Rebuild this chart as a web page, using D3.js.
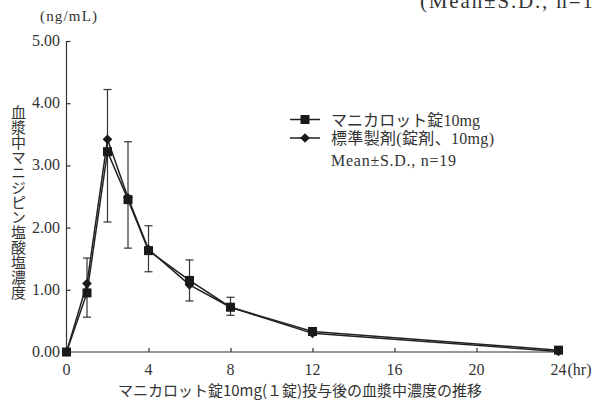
<!DOCTYPE html>
<html>
<head>
<meta charset="utf-8">
<script src="https://cdn.jsdelivr.net/npm/d3@7"></script>
<style>
  body { margin: 0; background: #fff; }
  svg { display: block; }
  .serif { font-family: "Liberation Serif", "DejaVu Serif", "Noto Sans CJK JP", serif; fill: #333; }
  .axis path, .axis line { stroke: #333; stroke-width: 1.2; }
</style>
</head>
<body>
<div id="chart"></div>
<script>
// sampling times (hr)
const times = [0, 1, 2, 3, 4, 6, 8, 12, 24];
// mean plasma concentration (ng/mL)
const manicarot = [0, 0.95, 3.22, 2.45, 1.63, 1.15, 0.72, 0.33, 0.03];
const standard = [0, 1.10, 3.42, 2.48, 1.65, 1.08, 0.72, 0.30, 0.01];
// error bar ends
const errTop = [null, 1.51, 4.22, 3.38, 2.03, 1.48, 0.88, 0.39, 0.08];
const errBottom = [null, 0.56, 2.09, 1.67, 1.29, 0.82, 0.59, 0.27, null];
const xTicks = [0, 4, 8, 12, 16, 20, 24];
const yTicks = [0, 1, 2, 3, 4, 5];
const seriesNames = ["マニカロット錠10mg", "標準製剤(錠剤、10mg)"];

const width = 592, height = 401;
const svg = d3.select("#chart").append("svg")
    .attr("width", width)
    .attr("height", height);

// plot area
const x = d3.scaleLinear().domain([0, 24]).range([66.5, 558.5]);
const y = d3.scaleLinear().domain([0, 5]).range([352, 41]);

// x-axis
svg.append("g")
    .attr("class", "axis")
    .attr("transform", "translate(0," + y(0) + ")")
    .call(d3.axisBottom(x).tickValues(xTicks).tickSizeInner(-4).tickSizeOuter(0).tickFormat(() => ""))
    .call(g => g.select(".domain").attr("d", "M" + x(0) + ",0H" + x(24)));

svg.selectAll(".xlab")
    .data(xTicks)
    .enter()
    .append("text")
    .attr("class", "serif")
    .attr("x", d => x(d))
    .attr("y", 375)
    .attr("text-anchor", "middle")
    .style("font-size", "16px")
    .text(d => d);

svg.append("text")
    .attr("class", "serif")
    .attr("x", x(24) + 9)
    .attr("y", 375)
    .style("font-size", "16px")
    .text("(hr)");

// y-axis
svg.append("g")
    .attr("class", "axis")
    .attr("transform", "translate(" + x(0) + ",0)")
    .call(d3.axisRight(y).tickValues(yTicks).tickSizeInner(4).tickSizeOuter(0).tickFormat(() => ""))
    .call(g => g.select(".domain").attr("d", "M0," + y(0) + "V" + y(5)));

svg.selectAll(".ylab")
    .data(yTicks)
    .enter()
    .append("text")
    .attr("class", "serif")
    .attr("x", 60)
    .attr("y", d => y(d) + 5)
    .attr("text-anchor", "end")
    .style("font-size", "16px")
    .text(d => d.toFixed(2));

svg.append("text")
    .attr("class", "serif")
    .attr("x", 40)
    .attr("y", 21)
    .attr("textLength", 57)
    .attr("lengthAdjust", "spacing")
    .style("font-size", "15px")
    .text("(ng/mL)");

// vertical y-axis title
svg.append("text")
    .attr("class", "serif")
    .attr("x", 17)
    .attr("y", 105)
    .style("writing-mode", "vertical-rl")
    .style("font-size", "15px")
    .text("血漿中マニジピン塩酸塩濃度");

// note at the top right, clipped by the page edge as in the source
svg.append("text")
    .attr("class", "serif")
    .attr("x", 420)
    .attr("y", 8)
    .attr("textLength", 194)
    .attr("lengthAdjust", "spacing")
    .style("font-size", "21px")
    .text("(Mean±S.D., n=19)");

// error bars
const errData = times.map((t, i) => ({ t: t, top: errTop[i], bottom: errBottom[i], mid: (manicarot[i] + standard[i]) / 2 }))
    .filter(d => d.top !== null || d.bottom !== null);

const errG = svg.append("g").attr("stroke", "#333").attr("stroke-width", 1.2);
errData.forEach(d => {
    let top = d.top !== null ? d.top : d.mid;
    let bottom = d.bottom !== null ? d.bottom : d.mid;
    errG.append("line")
        .attr("x1", x(d.t)).attr("x2", x(d.t))
        .attr("y1", y(top)).attr("y2", y(bottom));
    if (d.top !== null) {
        errG.append("line")
            .attr("x1", x(d.t) - 4).attr("x2", x(d.t) + 4)
            .attr("y1", y(d.top)).attr("y2", y(d.top));
    }
    if (d.bottom !== null) {
        errG.append("line")
            .attr("x1", x(d.t) - 4).attr("x2", x(d.t) + 4)
            .attr("y1", y(d.bottom)).attr("y2", y(d.bottom));
    }
});

// lines
const line = d3.line()
    .x(d => x(d[0]))
    .y(d => y(d[1]));

[standard, manicarot].forEach(values => {
    svg.append("path")
        .datum(times.map((t, i) => [t, values[i]]))
        .attr("d", line)
        .attr("fill", "none")
        .attr("stroke", "#222")
        .attr("stroke-width", 1.5);
});

// markers
const diamond = d3.symbol().type(d3.symbolDiamond2).size(60);

svg.selectAll(".diamond")
    .data(times.map((t, i) => [t, standard[i]]))
    .enter()
    .append("path")
    .attr("class", "diamond")
    .attr("d", diamond)
    .attr("transform", d => "translate(" + x(d[0]) + "," + y(d[1]) + ")")
    .attr("fill", "#1a1a1a");

svg.selectAll(".square")
    .data(times.map((t, i) => [t, manicarot[i]]))
    .enter()
    .append("rect")
    .attr("class", "square")
    .attr("x", d => x(d[0]) - 4.5)
    .attr("y", d => y(d[1]) - 4.5)
    .attr("width", 9)
    .attr("height", 9)
    .attr("fill", "#1a1a1a");

// legend
const legend = svg.append("g").attr("transform", "translate(290,0)");
const legendY = [119.5, 138];
const legendWidths = [149, 163];

legendY.forEach((ly, i) => {
    legend.append("line")
        .attr("x1", 0).attr("x2", 30)
        .attr("y1", ly).attr("y2", ly)
        .attr("stroke", "#222").attr("stroke-width", 1.5);
    if (i === 0) {
        legend.append("rect")
            .attr("x", 15 - 4.5).attr("y", ly - 4.5)
            .attr("width", 9).attr("height", 9)
            .attr("fill", "#1a1a1a");
    } else {
        legend.append("path")
            .attr("d", diamond)
            .attr("transform", "translate(15," + ly + ")")
            .attr("fill", "#1a1a1a");
    }
    legend.append("text")
        .attr("class", "serif")
        .attr("x", 41)
        .attr("y", ly + 6)
        .attr("textLength", legendWidths[i])
        .attr("lengthAdjust", "spacing")
        .style("font-size", "16px")
        .text(seriesNames[i]);
});

legend.append("text")
    .attr("class", "serif")
    .attr("x", 41)
    .attr("y", 166)
    .attr("textLength", 125)
    .attr("lengthAdjust", "spacing")
    .style("font-size", "16px")
    .text("Mean±S.D., n=19");

// bottom caption
svg.append("text")
    .attr("x", 300)
    .attr("y", 396)
    .attr("text-anchor", "middle")
    .style("font-family", "'Noto Sans CJK JP', sans-serif")
    .style("font-size", "15px")
    .style("fill", "#333")
    .text("マニカロット錠10mg(１錠)投与後の血漿中濃度の推移");
</script>
</body>
</html>
